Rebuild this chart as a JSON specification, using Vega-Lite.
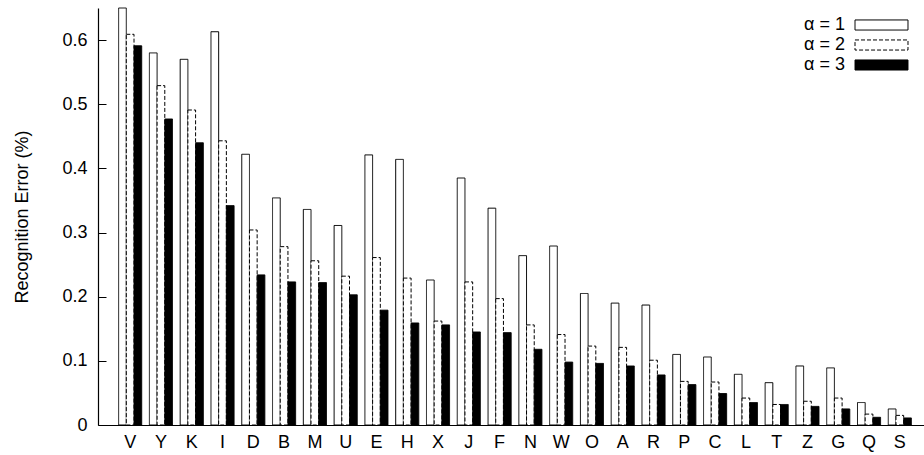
{
  "$schema": "https://vega.github.io/schema/vega-lite/v6.json",
  "width": 826,
  "height": 417,
  "autosize": {"type": "none"},
  "padding": {"left": 98, "top": 8, "right": 0, "bottom": 30},
  "background": "white",
  "config": {
    "view": {"stroke": null},
    "font": "Liberation Sans",
    "axis": {"domainColor": "black", "domainWidth": 1.2, "labelColor": "black", "titleColor": "black", "tickColor": "black", "labelFontSize": 18, "labelFont": "Liberation Sans", "titleFont": "Liberation Sans", "grid": false}
  },
  "data": {"values": [
    {"letter": "V", "alpha": "α = 1", "value": 0.65},
    {"letter": "V", "alpha": "α = 2", "value": 0.609},
    {"letter": "V", "alpha": "α = 3", "value": 0.591},
    {"letter": "Y", "alpha": "α = 1", "value": 0.58},
    {"letter": "Y", "alpha": "α = 2", "value": 0.529},
    {"letter": "Y", "alpha": "α = 3", "value": 0.477},
    {"letter": "K", "alpha": "α = 1", "value": 0.57},
    {"letter": "K", "alpha": "α = 2", "value": 0.491},
    {"letter": "K", "alpha": "α = 3", "value": 0.44},
    {"letter": "I", "alpha": "α = 1", "value": 0.613},
    {"letter": "I", "alpha": "α = 2", "value": 0.443},
    {"letter": "I", "alpha": "α = 3", "value": 0.342},
    {"letter": "D", "alpha": "α = 1", "value": 0.422},
    {"letter": "D", "alpha": "α = 2", "value": 0.304},
    {"letter": "D", "alpha": "α = 3", "value": 0.234},
    {"letter": "B", "alpha": "α = 1", "value": 0.354},
    {"letter": "B", "alpha": "α = 2", "value": 0.278},
    {"letter": "B", "alpha": "α = 3", "value": 0.223},
    {"letter": "M", "alpha": "α = 1", "value": 0.336},
    {"letter": "M", "alpha": "α = 2", "value": 0.256},
    {"letter": "M", "alpha": "α = 3", "value": 0.222},
    {"letter": "U", "alpha": "α = 1", "value": 0.311},
    {"letter": "U", "alpha": "α = 2", "value": 0.232},
    {"letter": "U", "alpha": "α = 3", "value": 0.203},
    {"letter": "E", "alpha": "α = 1", "value": 0.421},
    {"letter": "E", "alpha": "α = 2", "value": 0.261},
    {"letter": "E", "alpha": "α = 3", "value": 0.179},
    {"letter": "H", "alpha": "α = 1", "value": 0.414},
    {"letter": "H", "alpha": "α = 2", "value": 0.229},
    {"letter": "H", "alpha": "α = 3", "value": 0.159},
    {"letter": "X", "alpha": "α = 1", "value": 0.226},
    {"letter": "X", "alpha": "α = 2", "value": 0.162},
    {"letter": "X", "alpha": "α = 3", "value": 0.156},
    {"letter": "J", "alpha": "α = 1", "value": 0.385},
    {"letter": "J", "alpha": "α = 2", "value": 0.223},
    {"letter": "J", "alpha": "α = 3", "value": 0.145},
    {"letter": "F", "alpha": "α = 1", "value": 0.338},
    {"letter": "F", "alpha": "α = 2", "value": 0.197},
    {"letter": "F", "alpha": "α = 3", "value": 0.144},
    {"letter": "N", "alpha": "α = 1", "value": 0.264},
    {"letter": "N", "alpha": "α = 2", "value": 0.156},
    {"letter": "N", "alpha": "α = 3", "value": 0.118},
    {"letter": "W", "alpha": "α = 1", "value": 0.279},
    {"letter": "W", "alpha": "α = 2", "value": 0.141},
    {"letter": "W", "alpha": "α = 3", "value": 0.098},
    {"letter": "O", "alpha": "α = 1", "value": 0.205},
    {"letter": "O", "alpha": "α = 2", "value": 0.123},
    {"letter": "O", "alpha": "α = 3", "value": 0.096},
    {"letter": "A", "alpha": "α = 1", "value": 0.19},
    {"letter": "A", "alpha": "α = 2", "value": 0.121},
    {"letter": "A", "alpha": "α = 3", "value": 0.092},
    {"letter": "R", "alpha": "α = 1", "value": 0.187},
    {"letter": "R", "alpha": "α = 2", "value": 0.101},
    {"letter": "R", "alpha": "α = 3", "value": 0.078},
    {"letter": "P", "alpha": "α = 1", "value": 0.11},
    {"letter": "P", "alpha": "α = 2", "value": 0.068},
    {"letter": "P", "alpha": "α = 3", "value": 0.063},
    {"letter": "C", "alpha": "α = 1", "value": 0.106},
    {"letter": "C", "alpha": "α = 2", "value": 0.067},
    {"letter": "C", "alpha": "α = 3", "value": 0.049},
    {"letter": "L", "alpha": "α = 1", "value": 0.079},
    {"letter": "L", "alpha": "α = 2", "value": 0.042},
    {"letter": "L", "alpha": "α = 3", "value": 0.035},
    {"letter": "T", "alpha": "α = 1", "value": 0.066},
    {"letter": "T", "alpha": "α = 2", "value": 0.032},
    {"letter": "T", "alpha": "α = 3", "value": 0.032},
    {"letter": "Z", "alpha": "α = 1", "value": 0.092},
    {"letter": "Z", "alpha": "α = 2", "value": 0.037},
    {"letter": "Z", "alpha": "α = 3", "value": 0.029},
    {"letter": "G", "alpha": "α = 1", "value": 0.089},
    {"letter": "G", "alpha": "α = 2", "value": 0.042},
    {"letter": "G", "alpha": "α = 3", "value": 0.025},
    {"letter": "Q", "alpha": "α = 1", "value": 0.035},
    {"letter": "Q", "alpha": "α = 2", "value": 0.017},
    {"letter": "Q", "alpha": "α = 3", "value": 0.012},
    {"letter": "S", "alpha": "α = 1", "value": 0.025},
    {"letter": "S", "alpha": "α = 2", "value": 0.015},
    {"letter": "S", "alpha": "α = 3", "value": 0.011}
  ]},
  "mark": {"type": "bar", "stroke": "black", "strokeWidth": 1},
  "encoding": {
    "x": {
      "field": "letter", "type": "nominal", "sort": null,
      "scale": {"paddingInner": 0.25, "paddingOuter": 0.54, "align": 0.62},
      "axis": {"title": null, "ticks": false, "labelAngle": 0, "labelPadding": 8}
    },
    "xOffset": {
      "field": "alpha", "type": "nominal",
      "scale": {"paddingInner": 0, "paddingOuter": 0}
    },
    "y": {
      "field": "value", "type": "quantitative",
      "scale": {"domain": [0, 0.65], "nice": false, "zero": true},
      "axis": {
        "title": "Recognition Error (%)", "titleFontSize": 18, "titleFontWeight": "normal", "titlePadding": 30,
        "values": [0, 0.1, 0.2, 0.3, 0.4, 0.5, 0.6],
        "labelExpr": "datum.value == 0 ? '0' : format(datum.value, '.1f')",
        "tickSize": -8, "labelPadding": 19
      }
    },
    "fill": {
      "field": "alpha", "type": "nominal",
      "scale": {"range": ["white", "white", "black"]},
      "legend": {
        "title": null, "orient": "none", "legendX": 774, "legendY": 7.5,
        "symbolType": "M-3,-0.57H3V0.57H-3Z", "symbolSize": 312,
        "symbolStrokeColor": "black", "symbolStrokeWidth": 1,
        "labelAlign": "right", "labelOffset": -46, "labelFontSize": 18, "labelColor": "black",
        "rowPadding": 1
      }
    },
    "strokeDash": {
      "field": "alpha", "type": "nominal",
      "scale": {"range": [[1, 0], [4, 2], [1, 0]]}
    }
  }
}
